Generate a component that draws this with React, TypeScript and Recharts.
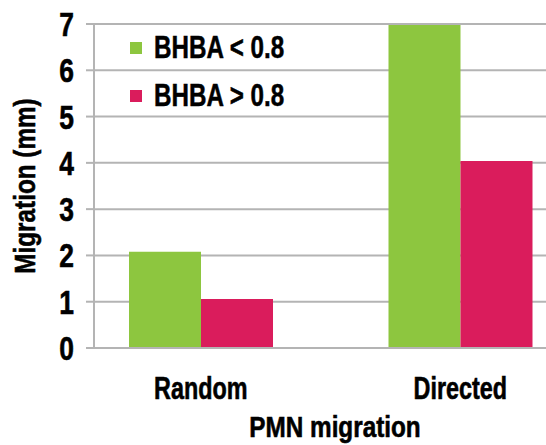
import React from "react";
import { BarChart, Bar, XAxis, YAxis, CartesianGrid, Legend, Label } from "recharts";

const categories = ["Random", "Directed"];
const lowBhba = [2.08, 6.98];
const highBhba = [1.06, 4.04];
const seriesNames = ["BHBA < 0.8", "BHBA > 0.8"];
const yTicks = [0, 1, 2, 3, 4, 5, 6, 7];

const data = categories.map((name, i) => ({ name, low: lowBhba[i], high: highBhba[i] }));

const FONT = '"Liberation Sans", Arial, sans-serif';
const GREEN = "#8DC63F";
const PINK = "#DA1C5C";
const GRID = "#b4b4b4";

// bold text squeezed horizontally to look like a heavy condensed face
const Narrow = ({ x, y, size, sx = 0.8, anchor = "middle", rotate = 0, children }: any) => (
  <g transform={`translate(${x},${y}) rotate(${rotate}) scale(${sx},1)`}>
    <text
      x={0}
      y={0}
      textAnchor={anchor}
      fill="#000"
      stroke="#000"
      strokeWidth={0.6}
      fontFamily={FONT}
      fontWeight={700}
      fontSize={size}
    >
      {children}
    </text>
  </g>
);

const XTick = ({ x, y, payload }: any) => (
  <Narrow x={x} y={y + 51} size={32} sx={0.73}>
    {payload.value}
  </Narrow>
);

const YTick = ({ x, y, payload }: any) => (
  <Narrow x={x} y={y + 12} size={33} sx={0.8} anchor="end">
    {payload.value}
  </Narrow>
);

const LegendContent = ({ payload }: any) => (
  <div style={{ fontFamily: FONT, fontWeight: 700, fontSize: 31, color: "#000", WebkitTextStroke: "0.5px #000" }}>
    {(payload || []).map((p: any) => (
      <div key={p.value} style={{ display: "flex", alignItems: "center", height: 48 }}>
        <span style={{ width: 12, height: 12, background: p.color, marginRight: 12, flex: "none" }} />
        <span style={{ display: "inline-block", transform: "scaleX(0.78)", transformOrigin: "left center", whiteSpace: "nowrap" }}>
          {p.value}
        </span>
      </div>
    ))}
  </div>
);

export default function App() {
  return (
    <div style={{ position: "absolute", left: 0, top: 0, width: 546, height: 445, background: "#fff" }}>
      <BarChart width={546} height={445} data={data} margin={{ top: 24, right: 0, left: 0, bottom: 0 }} barGap={0}>
        <CartesianGrid vertical={false} stroke={GRID} strokeWidth={2} />
        <XAxis
          dataKey="name"
          height={97}
          padding={{ left: -23, right: -44 }}
          tickLine={false}
          tickSize={0}
          tickMargin={0}
          axisLine={{ stroke: GRID, strokeWidth: 2 }}
          tick={<XTick />}
        >
          <Label
            content={({ viewBox }: any) => (
              <Narrow x={viewBox.x + viewBox.width / 2 + 15} y={viewBox.y + 89} size={30} sx={0.81}>
                PMN migration
              </Narrow>
            )}
          />
        </XAxis>
        <YAxis
          width={94}
          domain={[0, 7]}
          ticks={yTicks}
          interval={0}
          tickSize={8}
          tickMargin={12}
          tickLine={{ stroke: GRID, strokeWidth: 2 }}
          axisLine={{ stroke: GRID, strokeWidth: 2 }}
          tick={<YTick />}
        >
          <Label
            content={({ viewBox }: any) => (
              <Narrow x={viewBox.x + 35} y={viewBox.y + viewBox.height / 2} size={30} sx={0.81} rotate={-90}>
                Migration (mm)
              </Narrow>
            )}
          />
        </YAxis>
        <Legend
          layout="vertical"
          align="center"
          verticalAlign="middle"
          wrapperStyle={{ top: 24, left: 130, width: "auto" }}
          content={<LegendContent />}
        />
        <Bar dataKey="low" name={seriesNames[0]} fill={GREEN} barSize={72} isAnimationActive={false} />
        <Bar dataKey="high" name={seriesNames[1]} fill={PINK} barSize={72} isAnimationActive={false} />
      </BarChart>
    </div>
  );
}
